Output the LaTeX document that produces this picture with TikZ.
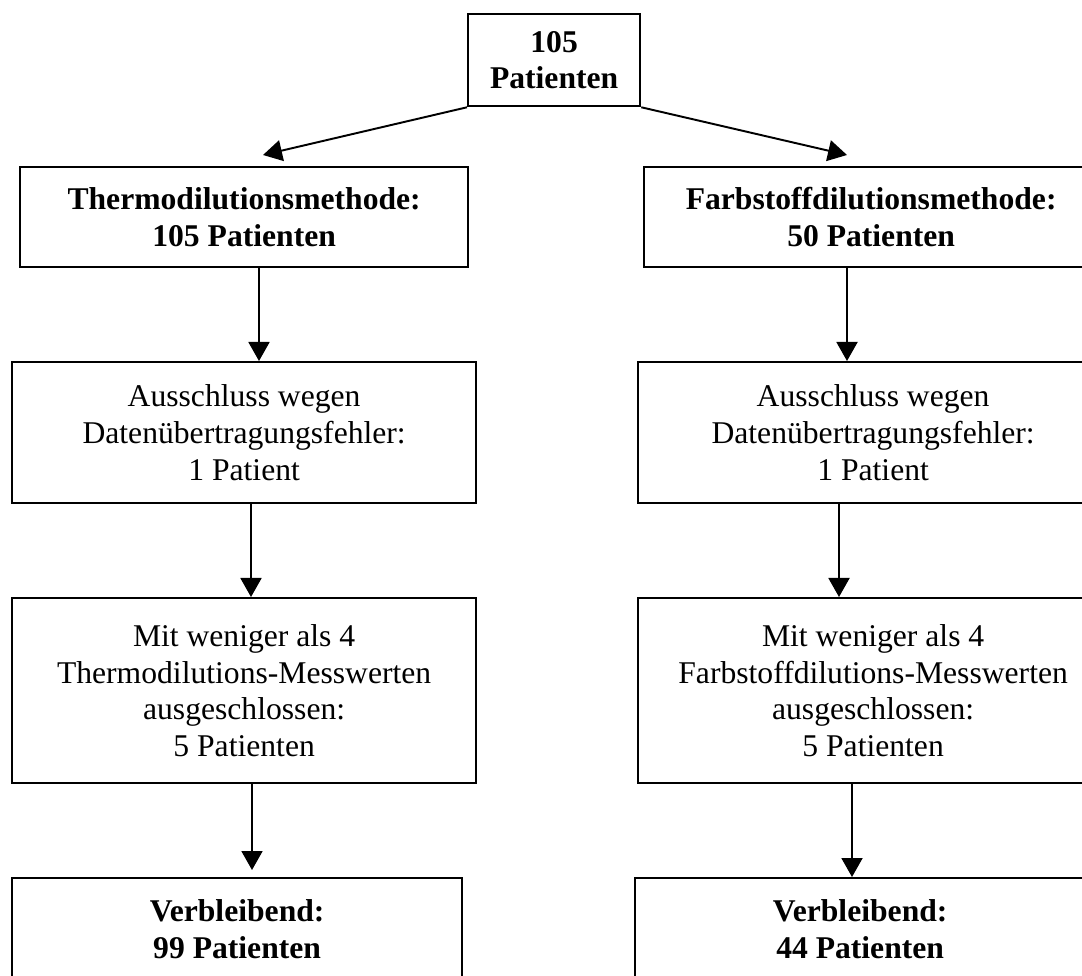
\documentclass[tikz,border=0pt]{standalone}
\usepackage{fontspec}
\setmainfont{Liberation Serif}
\usetikzlibrary{positioning, arrows.meta}

\begin{document}
\begin{tikzpicture}[
  box/.style={rectangle, draw, line width=1.3pt, align=center, anchor=north west,
              inner sep=0pt, font=\fontsize{18}{21}\selectfont},
  arr/.style={-{Triangle[length=3.8mm, width=4.2mm]}, line width=1.1pt},
]
\clip (0,0) rectangle (21.64,-19.52);

% ===== Top ==================================================================
\node[box, minimum width=3.44cm, minimum height=1.84cm] (top) at (9.34,-0.26)
  {\textbf{105}\\ \textbf{Patienten}};

% ===== Left column: thermodilution =========================================
\node[box, minimum width=8.96cm, minimum height=2.0cm] (thermo) at (0.38,-3.32)
  {\textbf{Thermodilutionsmethode:}\\ \textbf{105 Patienten}};
\node[box, minimum width=9.28cm, minimum height=2.82cm] (ausL) at (0.22,-7.22)
  {Ausschluss wegen\\ Datenübertragungsfehler:\\ 1 Patient};
\node[box, minimum width=9.28cm, minimum height=3.7cm] (mitL) at (0.22,-11.94)
  {Mit weniger als 4\\ Thermodilutions-Messwerten\\ ausgeschlossen:\\ 5 Patienten};
\node[box, minimum width=9.0cm, minimum height=2.04cm] (verL) at (0.22,-17.54)
  {\textbf{Verbleibend:}\\ \textbf{99 Patienten}};

% ===== Right column: dye dilution ==========================================
\node[box, minimum width=9.08cm, minimum height=2.0cm] (farb) at (12.86,-3.32)
  {\textbf{Farbstoffdilutionsmethode:}\\ \textbf{50 Patienten}};
\node[box, minimum width=9.4cm, minimum height=2.82cm] (ausR) at (12.74,-7.22)
  {Ausschluss wegen\\ Datenübertragungsfehler:\\ 1 Patient};
\node[box, minimum width=9.4cm, minimum height=3.7cm] (mitR) at (12.74,-11.94)
  {Mit weniger als 4\\ Farbstoffdilutions-Messwerten\\ ausgeschlossen:\\ 5 Patienten};
\node[box, minimum width=9.0cm, minimum height=2.04cm] (verR) at (12.68,-17.54)
  {\textbf{Verbleibend:}\\ \textbf{44 Patienten}};

% ===== arrows ===============================================================
\coordinate (tipL) at (5.26,-3.10);
\coordinate (tipR) at (16.94,-3.10);
\draw[arr] (top.south west) -- (tipL);
\draw[arr] (top.south east) -- (tipR);

\coordinate (l1) at (5.18,0);  \coordinate (r1) at (16.94,0);
\coordinate (l2) at (5.02,0);  \coordinate (r2) at (16.78,0);
\coordinate (l3) at (5.04,0);  \coordinate (r3) at (17.04,0);
\draw[arr] (thermo.south -| l1) -- (ausL.north -| l1);
\draw[arr] (ausL.south -| l2) -- (mitL.north -| l2);
\draw[arr, shorten >=0.14cm] (mitL.south -| l3) -- (verL.north -| l3);
\draw[arr] (farb.south -| r1) -- (ausR.north -| r1);
\draw[arr] (ausR.south -| r2) -- (mitR.north -| r2);
\draw[arr] (mitR.south -| r3) -- (verR.north -| r3);

\end{tikzpicture}
\end{document}
